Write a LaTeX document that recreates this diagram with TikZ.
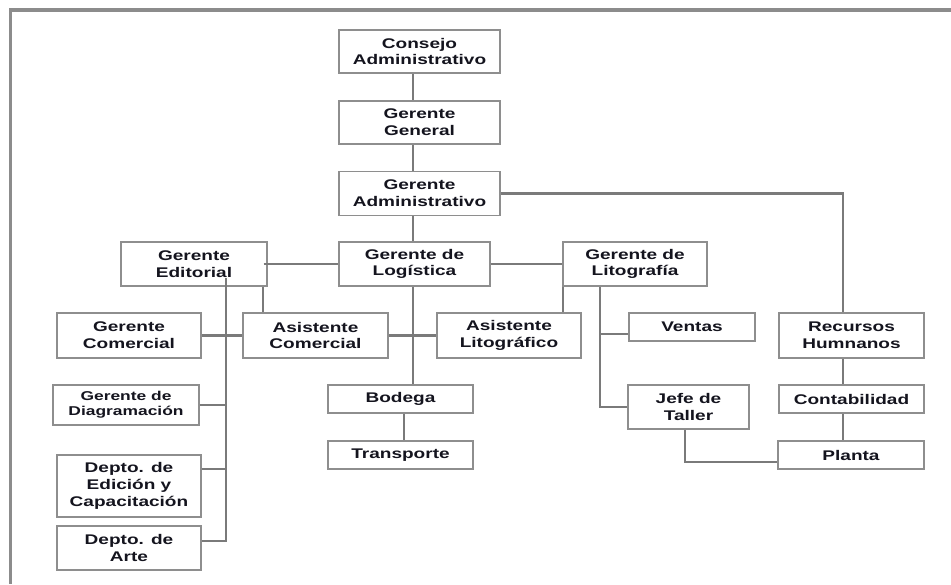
\documentclass[tikz,border=0pt]{standalone}
\usepackage{fontspec}
\setmainfont{Liberation Sans}[FakeStretch=1.36]
\begin{document}
\definecolor{framegray}{HTML}{8C8C8C}
\definecolor{boxgray}{HTML}{8E8E8E}
\definecolor{linegray}{HTML}{7A7A7A}
\definecolor{inkdark}{HTML}{14141E}
\begin{tikzpicture}[x=1pt,y=-1pt,
  box/.style={draw=boxgray, line width=1.3pt, fill=white, align=center,
    inner sep=0pt, text=inkdark,
    font=\bfseries\fontsize{14pt}{16.7pt}\selectfont},
  smallbox/.style={box, font=\bfseries\fontsize{12.8pt}{15pt}\selectfont},
  link/.style={draw=linegray, line width=2.4pt},
  frameline/.style={draw=framegray, line width=3.8pt}]
\useasboundingbox (0,0) rectangle (951,584);

% page frame (top and left edges)
\draw[frameline] (951,10) -- (10.5,10) -- (10.5,584);

% column and row positions of the connectors
\coordinate (xMain) at (413,0);
\coordinate (xEd)   at (226,0);
\coordinate (xEd2)  at (263,0);
\coordinate (xBo)   at (404,0);
\coordinate (xLi)   at (563,0);
\coordinate (xLi2)  at (600,0);
\coordinate (xJe)   at (685,0);
\coordinate (xRH)   at (843,0);
\coordinate (yRow)  at (0,334);
\coordinate (yEdic) at (0,469);
\coordinate (yArte) at (0,541);
\coordinate (yPlan) at (0,462);

% boxes
\node[box, minimum width=161pt, minimum height=43pt] (consejo) at (419.5,51.5) {Consejo\\Administrativo};
\node[box, minimum width=161pt, minimum height=43pt] (general) at (419.5,122.5) {Gerente\\General};
\node[box, minimum width=161pt, minimum height=44pt] (admin) at (419.5,193.5) {Gerente\\Administrativo};
\node[box, minimum width=146pt, minimum height=44pt] (editorial) at (194,264) {Gerente\\Editorial};
\node[box, minimum width=151pt, minimum height=44pt] (logistica) at (414.5,264) {Gerente de\\Logística};
\node[box, minimum width=144pt, minimum height=44pt] (litografia) at (635,264) {Gerente de\\Litografía};
\node[box, minimum width=144pt, minimum height=45pt] (comercial) at (129,335.5) {Gerente\\Comercial};
\node[box, minimum width=145pt, minimum height=45pt] (asiscom) at (315.5,335.5) {Asistente\\Comercial};
\node[box, minimum width=144pt, minimum height=45pt] (asislito) at (509,335.5) {Asistente\\Litográfico};
\node[box, minimum width=126pt, minimum height=28pt] (ventas) at (692,327) {Ventas};
\node[box, minimum width=145pt, minimum height=45pt] (rrhh) at (851.5,335.5) {Recursos\\Humnanos};
\node[smallbox, minimum width=146pt, minimum height=40pt] (diagram) at (126,405) {Gerente de\\Diagramación};
\node[box, minimum width=145pt, minimum height=28pt] (bodega) at (400.5,399) {Bodega};
\node[box, minimum width=121pt, minimum height=44pt] (jefe) at (688.5,407) {Jefe de\\Taller};
\node[box, minimum width=145pt, minimum height=28pt] (contab) at (851.5,399) {Contabilidad};
\node[box, minimum width=145pt, minimum height=28pt] (transporte) at (400.5,455) {Transporte};
\node[box, minimum width=146pt, minimum height=28pt] (planta) at (851,455) {Planta};
\node[box, minimum width=144pt, minimum height=62pt] (edicion) at (129,486) {Depto. de\\Edición y\\Capacitación};
\node[box, minimum width=144pt, minimum height=44pt] (arte) at (129,548) {Depto. de\\Arte};

% main chain
\draw[link] (consejo.south -| xMain) -- (general.north -| xMain);
\draw[link] (general.south -| xMain) -- (admin.north -| xMain);
\draw[link] (admin.south -| xMain) -- (logistica.north -| xMain);

% administration to human resources branch
\draw[link] (admin.east) -- (admin.east -| xRH) -- (rrhh.north -| xRH);
\draw[link] (rrhh.south -| xRH) -- (contab.north -| xRH);
\draw[link] (contab.south -| xRH) -- (planta.north -| xRH);

% second level links
\draw[link] ([xshift=-4pt]editorial.east) -- (logistica.west);
\draw[link] (logistica.east) -- (litografia.west);

% editorial branch (its trunk starts just inside the box)
\draw[link] ([yshift=9pt]editorial.south -| xEd) -- (xEd |- yArte) -- (arte.east |- yArte);
\draw[link] (comercial.east) -- (asiscom.west);
\draw[link] (diagram.east) -- (diagram.east -| xEd);
\draw[link] (edicion.east |- yEdic) -- (xEd |- yEdic);
\draw[link] (editorial.south -| xEd2) -- (asiscom.north -| xEd2);

% logistics branch
\draw[link] (logistica.south -| xMain) -- (bodega.north -| xMain);
\draw[link] (asiscom.east) -- (asislito.west);
\draw[link] (bodega.south -| xBo) -- (transporte.north -| xBo);

% lithography branch
\draw[link] (litografia.south -| xLi) -- (asislito.north -| xLi);
\draw[link] (litografia.south -| xLi2) -- (xLi2 |- jefe.west) -- (jefe.west);
\draw[link] (xLi2 |- yRow) -- (ventas.west |- yRow);
\draw[link] (jefe.south -| xJe) -- (xJe |- yPlan) -- (planta.west |- yPlan);
\end{tikzpicture}
\end{document}
